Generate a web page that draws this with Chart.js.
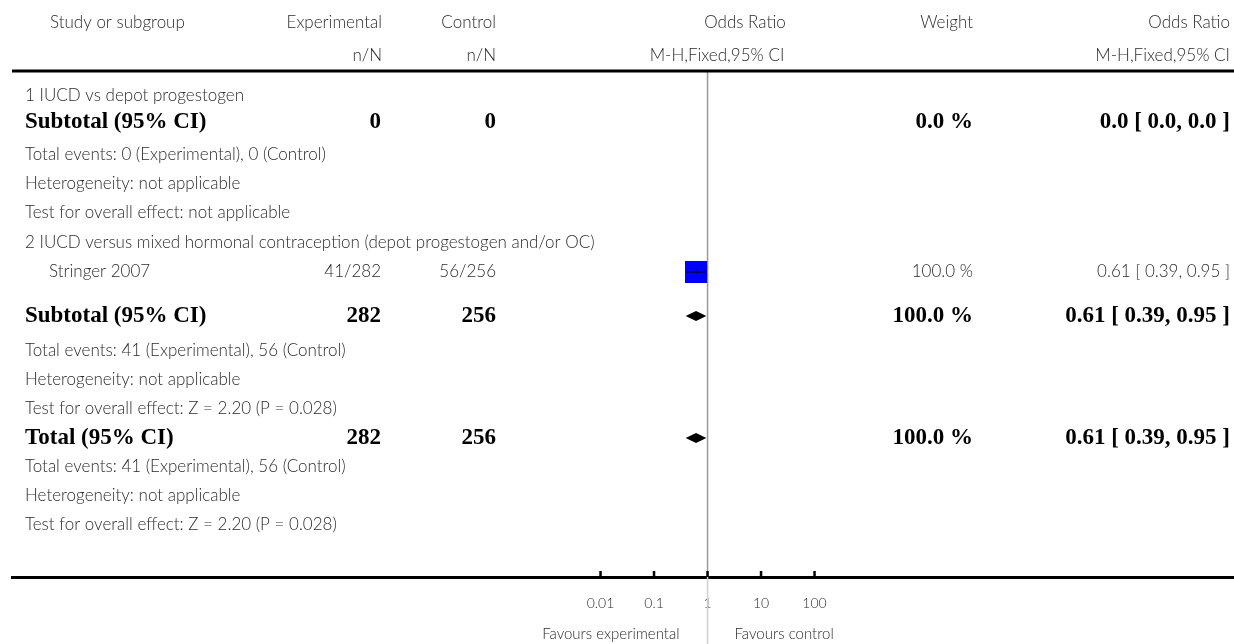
<!DOCTYPE html>
<html>
<head>
<meta charset="utf-8">
<script src="https://cdn.jsdelivr.net/npm/chart.js@4.4.1/dist/chart.umd.min.js"></script>
<style>
  html, body { margin: 0; padding: 0; background: #ffffff; }
  #wrap { width: 1234px; height: 644px; }
</style>
</head>
<body>
<div id="wrap"><canvas id="c" width="1234" height="644"></canvas></div>
<script>
// ---------- DATA ----------
const ROW_TEXT = [
  "1 IUCD vs depot progestogen",
  "Subtotal (95% CI)",
  "Total events: 0 (Experimental), 0 (Control)",
  "Heterogeneity: not applicable",
  "Test for overall effect: not applicable",
  "2 IUCD versus mixed hormonal contraception (depot progestogen and/or OC)",
  "Stringer 2007",
  "Subtotal (95% CI)",
  "Total events: 41 (Experimental), 56 (Control)",
  "Heterogeneity: not applicable",
  "Test for overall effect: Z = 2.20 (P = 0.028)",
  "Total (95% CI)",
  "Total events: 41 (Experimental), 56 (Control)",
  "Heterogeneity: not applicable",
  "Test for overall effect: Z = 2.20 (P = 0.028)"
];
const ROW_KIND = ["heading","pooled","note","note","note","heading","study","pooled","note","note","note","pooled","note","note","note"];
const EXP_COL    = ["", "0", "", "", "", "", "41/282", "282", "", "", "", "282", "", "", ""];
const CTRL_COL   = ["", "0", "", "", "", "", "56/256", "256", "", "", "", "256", "", "", ""];
const WEIGHT_COL = ["", "0.0 %", "", "", "", "", "100.0 %", "100.0 %", "", "", "", "100.0 %", "", "", ""];
const OR_COL     = ["", "0.0 [ 0.0, 0.0 ]", "", "", "", "", "0.61 [ 0.39, 0.95 ]", "0.61 [ 0.39, 0.95 ]", "", "", "", "0.61 [ 0.39, 0.95 ]", "", "", ""];

// study effect estimates
const STUDY_ROWS = [6];
const STUDY_OR = [0.61];
const STUDY_LO = [0.39];
const STUDY_HI = [0.95];
// pooled estimates (diamonds)
const POOLED_ROWS = [7, 11];
const POOLED_OR = [0.61, 0.61];
const POOLED_LO = [0.39, 0.39];
const POOLED_HI = [0.95, 0.95];

const TICKS = [0.01, 0.1, 1, 10, 100];
const TICK_LABELS = ["0.01", "0.1", "1", "10", "100"];
const FAVOURS = ["Favours experimental", "Favours control"];
const HEADERS_1 = ["Study or subgroup", "Experimental", "Control", "Odds Ratio", "Weight", "Odds Ratio"];
const HEADERS_2 = ["", "n/N", "n/N", "M-H,Fixed,95% CI", "", "M-H,Fixed,95% CI"];

// ---------- LAYOUT ----------
const ROW_Y = [96, 122, 155, 184, 213, 243, 272, 316, 351, 380, 409, 438, 467, 496, 525];
const SANS = "Lato, 'Open Sans', sans-serif";
const SERIF = "'Liberation Serif', 'DejaVu Serif', serif";
const TXT = "#2b2b2b";
const REG = "300 17px " + SANS;
const BOLD = "bold 23px " + SERIF;

const studyPts = STUDY_ROWS.map((r, i) => ({ x: STUDY_OR[i], y: ROW_Y[r] }));
const ciPts = [];
STUDY_ROWS.forEach((r, i) => {
  ciPts.push({ x: STUDY_LO[i], y: ROW_Y[r] });
  ciPts.push({ x: STUDY_HI[i], y: ROW_Y[r] });
  ciPts.push({ x: NaN, y: NaN });
});

const tablePlugin = {
  id: 'forestTable',
  beforeDatasetsDraw(chart) {
    const ctx = chart.ctx;
    const xs = chart.scales.x;
    const x1 = xs.getPixelForValue(1);
    const yb = chart.chartArea.bottom;
    ctx.save();
    ctx.lineWidth = 1.5;
    ctx.strokeStyle = '#9a9a9a';
    ctx.beginPath(); ctx.moveTo(x1, 72); ctx.lineTo(x1, yb); ctx.stroke();
    ctx.strokeStyle = '#cfcfcf';
    ctx.beginPath(); ctx.moveTo(x1, yb); ctx.lineTo(x1, 644); ctx.stroke();
    ctx.restore();
  },
  afterDraw(chart) {
    const ctx = chart.ctx;
    const xs = chart.scales.x, ys = chart.scales.y;
    const x1 = xs.getPixelForValue(1);
    ctx.save();

    // header rule
    ctx.strokeStyle = '#000';
    ctx.lineWidth = 3;
    ctx.beginPath();
    ctx.moveTo(12, 71);
    ctx.lineTo(1234, 71);
    ctx.stroke();

    // axis tick marks (pointing up)
    ctx.lineWidth = 2.5;
    const yb = chart.chartArea.bottom;
    TICKS.forEach(t => {
      const px = xs.getPixelForValue(t);
      ctx.beginPath();
      ctx.moveTo(px, yb);
      ctx.lineTo(px, yb - 6);
      ctx.stroke();
    });

    // diamonds
    ctx.fillStyle = '#000';
    POOLED_ROWS.forEach((r, i) => {
      const y = ys.getPixelForValue(ROW_Y[r]);
      const l = xs.getPixelForValue(POOLED_LO[i]);
      const m = xs.getPixelForValue(POOLED_OR[i]);
      const h = xs.getPixelForValue(POOLED_HI[i]);
      ctx.beginPath();
      ctx.moveTo(l, y);
      ctx.lineTo(m, y - 5);
      ctx.lineTo(h, y);
      ctx.lineTo(m, y + 5);
      ctx.closePath();
      ctx.fill();
    });

    // header text
    ctx.fillStyle = TXT;
    ctx.textBaseline = 'middle';
    ctx.font = REG;
    const hy1 = 23, hy2 = 56;
    ctx.textAlign = 'left';
    ctx.fillText(HEADERS_1[0], 50, hy1);
    ctx.textAlign = 'right';
    ctx.fillText(HEADERS_1[1], 382, hy1);
    ctx.fillText(HEADERS_2[1], 382, hy2);
    ctx.fillText(HEADERS_1[2], 496, hy1);
    ctx.fillText(HEADERS_2[2], 496, hy2);
    ctx.textAlign = 'center';
    ctx.fillText(HEADERS_1[3], 745, hy1);
    ctx.fillText(HEADERS_2[3], 717, hy2);
    ctx.textAlign = 'right';
    ctx.fillText(HEADERS_1[4], 973, hy1);
    ctx.fillText(HEADERS_1[5], 1230, hy1);
    ctx.fillText(HEADERS_2[5], 1230, hy2);

    // rows
    ROW_TEXT.forEach((txt, i) => {
      const y = ys.getPixelForValue(ROW_Y[i]);
      const kind = ROW_KIND[i];
      const bold = kind === 'pooled';
      ctx.fillStyle = bold ? '#000' : TXT;
      ctx.font = bold ? BOLD : REG;
      ctx.textAlign = 'left';
      ctx.fillText(txt, kind === 'study' ? 49 : 25, y);
      ctx.textAlign = 'right';
      if (EXP_COL[i]) ctx.fillText(EXP_COL[i], 381, y);
      if (CTRL_COL[i]) ctx.fillText(CTRL_COL[i], 496, y);
      if (WEIGHT_COL[i]) ctx.fillText(WEIGHT_COL[i], 973, y);
      if (OR_COL[i]) ctx.fillText(OR_COL[i], 1230, y);
    });

    // favours labels
    ctx.fillStyle = TXT;
    ctx.font = "300 15px " + SANS;
    ctx.textAlign = 'right';
    ctx.fillText(FAVOURS[0], x1 - 28, 634);
    ctx.textAlign = 'left';
    ctx.fillText(FAVOURS[1], x1 + 27, 634);
    ctx.restore();
  }
};

new Chart(document.getElementById('c'), {
  type: 'scatter',
  data: {
    datasets: [
      {
        label: 'Estimate mark',
        data: studyPts,
        pointStyle: 'line',
        rotation: 90,
        pointRadius: 2,
        borderColor: '#000',
        borderWidth: 1
      },
      {
        label: 'CI',
        data: ciPts,
        showLine: true,
        spanGaps: false,
        borderColor: '#000',
        borderWidth: 1,
        pointRadius: 0
      },
      {
        label: 'Study',
        data: studyPts,
        pointStyle: 'rect',
        pointRadius: 15.6,
        backgroundColor: '#0000ff',
        borderWidth: 0
      }
    ]
  },
  options: {
    responsive: false,
    animation: false,
    devicePixelRatio: 1,
    layout: { autoPadding: false, padding: { left: 12, right: 0, top: 0, bottom: 0 } },
    plugins: { legend: { display: false }, tooltip: { enabled: false } },
    scales: {
      x: {
        type: 'logarithmic',
        position: 'bottom',
        min: 1e-13,
        max: Math.pow(10, 9.84),
        grid: { display: false, drawTicks: false },
        border: { display: true, color: '#000', width: 3 },
        afterBuildTicks: s => { s.ticks = TICKS.map(v => ({ value: v })); },
        afterFit: s => { s.height = 67; s.paddingLeft = 0; s.paddingRight = 0; },
        ticks: {
          autoSkip: false,
          maxRotation: 0,
          padding: 18,
          color: TXT,
          font: { family: SANS, size: 14, weight: 300 },
          callback: (v) => { const i = TICKS.indexOf(v); return i >= 0 ? TICK_LABELS[i] : ''; }
        }
      },
      y: {
        type: 'linear',
        display: false,
        min: 0,
        max: 577,
        reverse: true
      }
    }
  },
  plugins: [tablePlugin]
});
</script>
</body>
</html>
